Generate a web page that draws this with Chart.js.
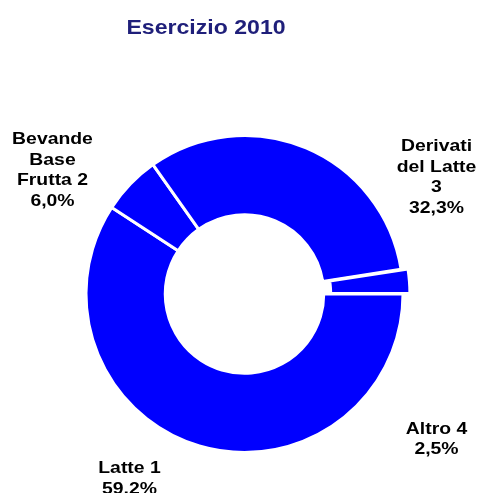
<!DOCTYPE html>
<html>
<head>
<meta charset="utf-8">
<script src="https://cdn.jsdelivr.net/npm/chart.js@4/dist/chart.umd.min.js"></script>
<style>
  html, body { margin: 0; padding: 0; background: #fff; }
  #wrap { width: 481px; height: 493px; position: relative; }
</style>
</head>
<body>
<div id="wrap"><canvas id="chart_esercizio2010"></canvas></div>
<script>
// slices, clockwise from 3 o'clock
var categories = [
    ['Latte 1'],
    ['Bevande', 'Base', 'Frutta 2'],
    ['Derivati', 'del Latte', '3'],
    ['Altro 4']
];
var shares = [59.2, 6.0, 32.3, 2.5];
var chartTitle = 'Esercizio 2010';

var FONT = "'Liberation Sans', Arial, sans-serif";

// where each label block sits, relative to the doughnut centre (first baseline)
var labelSpots = [
    {dx: -115, dy: 179},
    {dx: -192, dy: -150},
    {dx: 192, dy: -143},
    {dx: 192, dy: 139.5}
];

function pct(v) {
    return v.toFixed(1).replace('.', ',') + '%';
}

function wideText(ctx, text, x, y, sx) {
    ctx.save();
    ctx.translate(x, y);
    ctx.scale(sx, 1);
    ctx.fillText(text, 0, 0);
    ctx.restore();
}

var chart_esercizio2010 = new Chart(document.getElementById('chart_esercizio2010'), {
    type: 'doughnut',
    data: {
        labels: categories.map(function(c) { return c.join(' '); }),
        datasets: [
            {
                data: shares,
                backgroundColor: '#0000ff',
                borderColor: '#ffffff',
                borderWidth: 3,
                offset: [0, 0, 0, 15],
                hoverOffset: 0
            }
        ]
    },
    options: {
        animation: false,
        responsive: true,
        maintainAspectRatio: false,
        rotation: 90,
        cutout: '50%',
        layout: {
            padding: {left: 76.5, right: 68.5, top: 126.5, bottom: 31.5}
        },
        plugins: {
            legend: { display: false },
            title: { display: false },
            tooltip: { enabled: false }
        }
    },
    plugins: [{
        id: 'customPlugin',
        beforeDraw: (chart, args, options) => {
            const ctx = chart.canvas.getContext('2d');
            ctx.save();
            ctx.globalCompositeOperation = 'destination-over';
            ctx.fillStyle = 'white';
            ctx.fillRect(0, 0, chart.canvas.width, chart.canvas.height);
            ctx.restore();
        },
        afterDraw: (chart) => {
            const ctx = chart.ctx;
            const arc = chart.getDatasetMeta(0).data[0];
            const cx = arc.x, cy = arc.y;
            ctx.save();
            ctx.textAlign = 'center';
            ctx.textBaseline = 'alphabetic';

            // title
            ctx.fillStyle = '#1f1f7a';
            ctx.font = 'bold 21px ' + FONT;
            wideText(ctx, chartTitle, cx - 38.5, 34, 1.1);

            // slice labels
            ctx.fillStyle = '#000000';
            ctx.font = 'bold 17px ' + FONT;
            categories.forEach(function(lines, i) {
                const spot = labelSpots[i];
                const all = lines.concat([pct(shares[i])]);
                all.forEach(function(t, j) {
                    wideText(ctx, t, cx + spot.dx, cy + spot.dy + j * 20.7, 1.14);
                });
            });
            ctx.restore();
        }
    }]
});
</script>
</body>
</html>
